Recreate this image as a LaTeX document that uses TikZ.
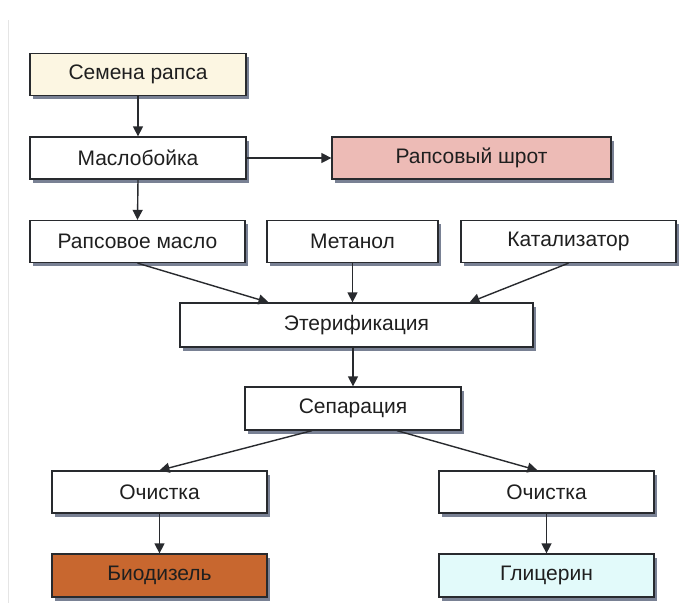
\documentclass[tikz,border=0pt]{standalone}
\usepackage{fontspec}
\setmainfont{Liberation Sans}
\usetikzlibrary{calc}
\usetikzlibrary{arrows.meta}
\usetikzlibrary{shadows}
\definecolor{seedcol}{RGB}{252,246,226}
\definecolor{mealcol}{RGB}{237,187,182}
\definecolor{fuelcol}{RGB}{200,103,47}
\definecolor{glycol}{RGB}{226,250,250}
\definecolor{edgecol}{RGB}{40,42,46}
\definecolor{shadecol}{RGB}{50,62,92}
\tikzset{
 proc/.style={draw=edgecol, line width=1.3pt, fill=white, minimum height=42pt, inner sep=0pt,
   text=black!88, font=\fontsize{21}{25}\selectfont,
   drop shadow={shadow xshift=2.5pt, shadow yshift=-3.5pt, fill=shadecol, opacity=.65}},
 flow/.style={draw=edgecol, line width=1.4pt, -{Triangle[length=10pt,width=10pt]}}
}

\begin{document}
\begin{tikzpicture}[x=1pt, y=-1pt]
\fill[white] (0,0) rectangle (692,614);
\useasboundingbox (0,0) rectangle (692,614);
\draw[black!10] (8,20) -- (8,603);

\node[proc, fill=seedcol, minimum width=216pt] (seeds) at (138,74.5) {Семена рапса};
\node[proc, minimum width=216pt] (press) at (138,158) {Маслобойка};
\node[proc, fill=mealcol, minimum width=279pt] (meal) at (471.5,158) {Рапсовый шрот};
\node[proc, minimum width=215pt] (oil) at (137.5,241.5) {Рапсовое масло};
\node[proc, minimum width=171pt] (methanol) at (352.5,241.5) {Метанол};
\node[proc, minimum width=215pt] (catalyst) at (568.5,241.5) {Катализатор};
\node[proc, minimum width=353pt, minimum height=44pt] (ester) at (356.5,325) {Этерификация};
\node[proc, minimum width=216pt, minimum height=43pt] (separ) at (353,408.5) {Сепарация};
\node[proc, minimum width=215pt] (cleanL) at (159.5,492) {Очистка};
\node[proc, minimum width=215pt] (cleanR) at (546.5,492) {Очистка};
\node[proc, fill=fuelcol, minimum width=215pt, minimum height=43pt] (fuel) at (159.5,575.5) {Биодизель};
\node[proc, fill=glycol, minimum width=215pt, minimum height=43pt] (glyc) at (546.5,575.5) {Глицерин};

\draw[flow] (seeds.south) -- (press.north);
\draw[flow] (press.south) -- (oil.north);
\draw[flow] (press.east) -- (press.east -| meal.west);
\draw[flow] (oil.south) -- ($(ester.north)+(-88,0)$);
\draw[flow] (methanol.south) -- (methanol.south |- ester.north);
\draw[flow] (catalyst.south) -- ($(ester.north)+(113,0)$);
\draw[flow] (separ.north |- ester.south) -- (separ.north);
\draw[flow] ($(separ.south)+(-41,0)$) -- (cleanL.north);
\draw[flow] ($(separ.south)+(44,0)$) -- ($(cleanR.north)+(-9,0)$);
\draw[flow] (cleanL.south) -- (fuel.north);
\draw[flow] (cleanR.south) -- (glyc.north);
\end{tikzpicture}
\end{document}
